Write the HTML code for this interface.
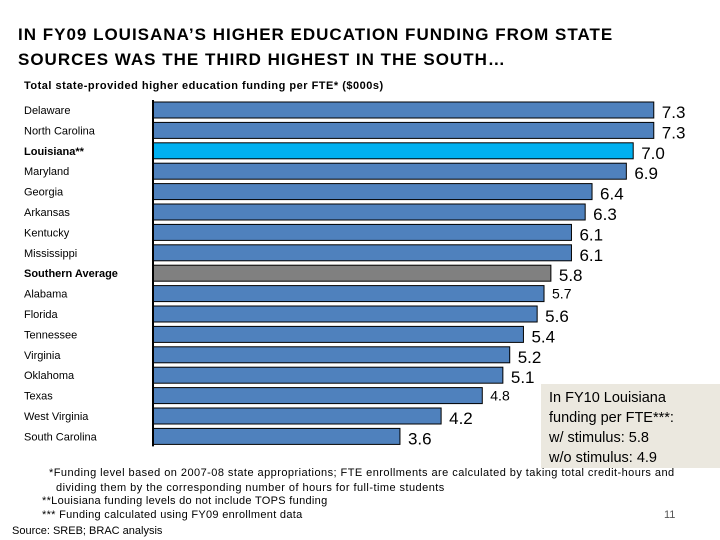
<!DOCTYPE html>
<html><head><meta charset="utf-8"><style>
body{margin:0;width:720px;height:540px;background:#fff;font-family:"Liberation Sans",sans-serif;position:relative;overflow:hidden}
.t{position:absolute;white-space:nowrap;color:#000}
</style></head><body>
<div class="t" style="left:18px;top:22px;font-size:17px;font-weight:bold;line-height:25px;letter-spacing:1px">IN FY09 LOUISANA’S HIGHER EDUCATION FUNDING FROM STATE<br>SOURCES WAS THE THIRD HIGHEST IN THE SOUTH…</div>
<div class="t" style="left:24px;top:80px;font-size:11px;font-weight:bold;letter-spacing:0.5px">Total state-provided higher education funding per FTE* ($000s)</div>
<svg id="chart" width="720" height="540" style="position:absolute;left:0;top:0"></svg>
<div class="t" style="left:541px;top:384px;width:179px;height:84px;background:#ebe8df;font-size:14.5px;line-height:20px;padding:4px 0 0 8px;box-sizing:border-box">In FY10 Louisiana<br>funding per FTE***:<br>w/ stimulus: 5.8<br>w/o stimulus: 4.9</div>
<div class="t" style="left:49px;top:466px;font-size:11px;line-height:14.5px;letter-spacing:0.45px">*Funding level based on 2007-08 state appropriations; FTE enrollments are calculated by taking total credit-hours and<br>&nbsp;&nbsp;dividing them by the corresponding number of hours for full-time students</div>
<div class="t" style="left:42px;top:495px;font-size:11px;letter-spacing:0.3px">**Louisiana funding levels do not include TOPS funding</div>
<div class="t" style="left:42px;top:509px;font-size:11px;letter-spacing:0.3px">*** Funding calculated using FY09 enrollment data</div>
<div class="t" style="left:12px;top:525px;font-size:11px">Source: SREB; BRAC analysis</div>
<div class="t" style="left:664px;top:509px;font-size:11px;color:#555">11</div>
<script>
const categories=["Delaware","North Carolina","Louisiana**","Maryland","Georgia","Arkansas","Kentucky","Mississippi","Southern Average","Alabama","Florida","Tennessee","Virginia","Oklahoma","Texas","West Virginia","South Carolina"];
const values=[7.3,7.3,7.0,6.9,6.4,6.3,6.1,6.1,5.8,5.7,5.6,5.4,5.2,5.1,4.8,4.2,3.6];
const valueLabels=["7.3","7.3","7.0","6.9","6.4","6.3","6.1","6.1","5.8","5.7","5.6","5.4","5.2","5.1","4.8","4.2","3.6"];
const svg=document.getElementById('chart');
const NS='http://www.w3.org/2000/svg';
const x0=153,scale=68.6,y0=110,pitch=20.4,bh=16;
const xs=v=>x0+v*scale;
const ys=i=>y0+i*pitch;
function mk(tag,attrs){const e=document.createElementNS(NS,tag);for(const k in attrs)e.setAttribute(k,attrs[k]);svg.appendChild(e);return e;}
categories.forEach((c,i)=>{
  const cy=ys(i);
  const bold=(c==="Louisiana**"||c==="Southern Average");
  const lab=mk('text',{x:24,y:cy+4,'font-size':11,'font-weight':bold?'bold':'normal','font-family':'Liberation Sans, sans-serif'});
  lab.textContent=c;
  
  
  const fill=c==="Louisiana**"?"#00b0f0":(c==="Southern Average"?"#808080":"#4f81bd");
  const r=mk('rect',{x:x0,y:cy-bh/2,width:xs(values[i])-x0,height:bh,fill:fill,stroke:'#000','stroke-width':1});
  
  
  const small=(i===9||i===14);
  const vt=mk('text',{x:xs(values[i])+8,y:cy+(small?5:8),'font-size':small?14:17,'font-family':'Liberation Sans, sans-serif'});
  vt.textContent=valueLabels[i];
  
  
});
const ax=mk('line',{x1:x0,x2:x0,y1:ys(0)-bh/2-2,y2:ys(categories.length-1)+bh/2+2,stroke:'#000','stroke-width':2});


</script>
</body></html>
